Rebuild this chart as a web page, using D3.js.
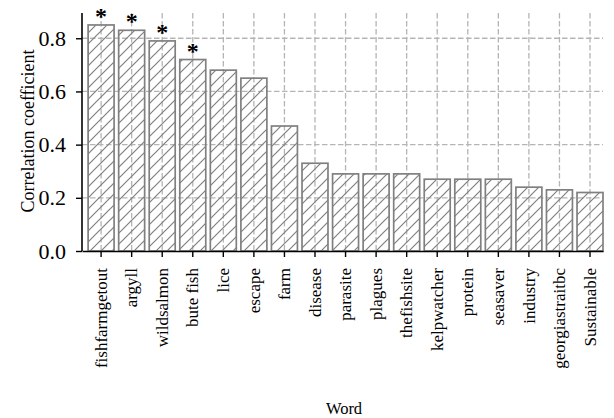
<!DOCTYPE html>
<html>
<head>
<meta charset="utf-8">
<script src="https://cdn.jsdelivr.net/npm/d3@7/dist/d3.min.js"></script>
<style>
html,body{margin:0;padding:0;background:#fff;}
svg{display:block;}
svg text{font-family:"Liberation Serif","Times New Roman","DejaVu Serif",serif !important;}
</style>
</head>
<body>
<svg id="chart" width="614" height="418"></svg>
<script>
const categories = ["fishfarmgetout","argyll","wildsalmon","bute fish","lice","escape","farm","disease","parasite","plagues","thefishsite","kelpwatcher","protein","seasaver","industry","georgiastraitbc","Sustainable"];
const values = [0.85,0.83,0.79,0.72,0.68,0.65,0.47,0.33,0.29,0.29,0.29,0.27,0.27,0.27,0.24,0.23,0.22];
const significant = [true,true,true,true,false,false,false,false,false,false,false,false,false,false,false,false,false];
const yTicks = [0.0,0.2,0.4,0.6,0.8];

(function(){
const svg = d3.select("#chart");
const mL = 82, mR = 603, mT = 13, mB = 251;

const x = d3.scaleBand().domain(categories).range([mL, mR])
  .paddingInner(0.15).paddingOuter(0.1).align(1);
const y = d3.scaleLinear().domain([0, 0.895]).range([mB, mT]);

// hatch pattern
const defs = svg.append("defs");
const pat = defs.append("pattern").attr("id","hatch").attr("patternUnits","userSpaceOnUse")
  .attr("width",11).attr("height",11);
pat.append("path").attr("d","M-1,12 L12,-1 M-3,3 L3,-3 M8,14 L14,8")
  .attr("stroke","#808080").attr("stroke-width",1.2).attr("fill","none");

// grid
const grid = svg.append("g");
grid.selectAll(".hg").data(yTicks.filter(d=>d>0)).join("line")
  .attr("x1",mL).attr("x2",mR).attr("y1",d=>y(d)).attr("y2",d=>y(d))
  .attr("stroke","#b5b5b5").attr("stroke-width",1.3).attr("stroke-dasharray","5.5,2.5");
grid.selectAll(".vg").data(categories).join("line")
  .attr("x1",d=>x(d)+x.bandwidth()/2).attr("x2",d=>x(d)+x.bandwidth()/2)
  .attr("y1",mT).attr("y2",mB)
  .attr("stroke","#b5b5b5").attr("stroke-width",1.3).attr("stroke-dasharray","5.5,2.5");

// bars
svg.append("g").selectAll("rect").data(values).join("rect")
  .attr("x",(d,i)=>x(categories[i]))
  .attr("y",d=>y(d))
  .attr("width",x.bandwidth())
  .attr("height",d=>y(0)-y(d))
  .attr("fill","url(#hatch)")
  .attr("stroke","#808080").attr("stroke-width",1.7);

// asterisks
svg.append("g").selectAll("text").data(values.map((v,i)=>({v,i})).filter(d=>significant[d.i])).join("text")
  .attr("x",d=>x(categories[d.i])+x.bandwidth()/2)
  .attr("y",d=>y(d.v)-1)
  .attr("text-anchor","middle")
  .attr("font-size",24).attr("font-weight","bold")
  .text("*");

// axes
const yAxis = svg.append("g").attr("transform",`translate(${mL},0)`)
  .call(d3.axisLeft(y).tickValues(yTicks).tickFormat(d3.format(".1f")).tickSize(6).tickPadding(10));
yAxis.select(".domain").attr("d",`M0,${mB}V${mT}`);
const xAxis = svg.append("g").attr("transform",`translate(0,${mB})`)
  .call(d3.axisBottom(x).tickSize(6).tickSizeOuter(0).tickPadding(4));
[yAxis,xAxis].forEach(a=>{
  a.attr("font-family",null);
  a.selectAll(".domain").attr("stroke","#000").attr("stroke-width",1.6);
  a.selectAll(".tick line").attr("stroke","#000").attr("stroke-width",1.4);
  a.selectAll("text").attr("fill","#000");
});
yAxis.selectAll("text").attr("font-size",22);
xAxis.selectAll(".tick text").attr("font-size",17)
  .attr("text-anchor","end").attr("transform","rotate(-90)")
  .attr("x",-17).attr("y",0).attr("dy","0.33em");

// labels
svg.append("text").attr("transform","translate(34,131) rotate(-90)")
  .attr("text-anchor","middle").attr("font-size",18).text("Correlation coefficient");
svg.append("text").attr("x",344).attr("y",414)
  .attr("text-anchor","middle").attr("font-size",16.5).text("Word");
})();
</script>
</body>
</html>
